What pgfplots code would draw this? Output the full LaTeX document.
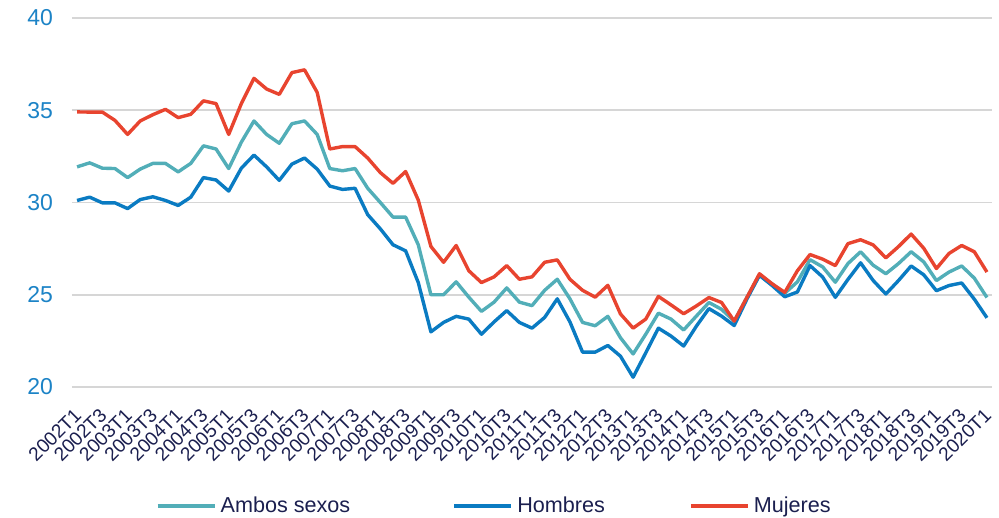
\documentclass[border=0pt]{standalone}
\usepackage{pgfplots}
\pgfplotsset{compat=1.18}
\usepackage{pgfplotstable}
\usepackage{fontspec}
\setmainfont{Liberation Sans}
\definecolor{cTeal}{HTML}{52AEB8}
\definecolor{cBlue}{HTML}{0A7BC2}
\definecolor{cRed}{HTML}{E8442F}
\definecolor{cNavy}{HTML}{1B1F4F}
\definecolor{cYlab}{HTML}{1C83C6}
\definecolor{cGrid}{HTML}{D6D6D6}
\pgfplotstableread{
i a h m
0 31.93 30.11 34.91
1 32.15 30.29 34.90
2 31.86 29.98 34.90
3 31.84 29.98 34.45
4 31.35 29.67 33.69
5 31.81 30.16 34.42
6 32.12 30.31 34.76
7 32.12 30.11 35.05
8 31.66 29.84 34.60
9 32.12 30.29 34.78
10 33.07 31.35 35.51
11 32.90 31.22 35.36
12 31.84 30.62 33.69
13 33.27 31.86 35.36
14 34.42 32.57 36.73
15 33.69 31.93 36.15
16 33.21 31.20 35.86
17 34.27 32.08 37.04
18 34.42 32.41 37.19
19 33.69 31.81 35.97
20 31.84 30.89 32.90
21 31.72 30.71 33.03
22 31.84 30.77 33.03
23 30.77 29.34 32.41
24 30.00 28.57 31.62
25 29.21 27.71 31.04
26 29.21 27.38 31.68
27 27.71 25.66 30.13
28 25.00 22.99 27.62
29 25.00 23.50 26.76
30 25.70 23.83 27.67
31 24.87 23.68 26.30
32 24.10 22.86 25.66
33 24.60 23.53 25.97
34 25.37 24.14 26.58
35 24.60 23.50 25.84
36 24.41 23.19 25.97
37 25.24 23.77 26.76
38 25.84 24.78 26.89
39 24.78 23.53 25.84
40 23.50 21.89 25.24
41 23.32 21.89 24.87
42 23.83 22.25 25.51
43 22.67 21.67 23.96
44 21.79 20.53 23.19
45 22.86 21.85 23.68
46 24.00 23.19 24.91
47 23.68 22.76 24.45
48 23.09 22.22 23.97
49 23.84 23.29 24.39
50 24.58 24.25 24.85
51 24.21 23.84 24.58
52 23.57 23.33 23.57
53 24.85 24.76 24.85
54 26.08 26.05 26.14
55 25.59 25.50 25.59
56 25.08 24.89 25.13
57 25.70 25.15 26.30
58 26.90 26.58 27.18
59 26.51 25.96 26.93
60 25.68 24.86 26.58
61 26.69 25.83 27.77
62 27.33 26.73 27.98
63 26.60 25.77 27.70
64 26.14 25.04 27.00
65 26.69 25.77 27.61
66 27.33 26.56 28.29
67 26.78 26.08 27.52
68 25.77 25.22 26.42
69 26.23 25.50 27.24
70 26.56 25.64 27.67
71 25.90 24.76 27.33
72 24.85 23.75 26.23
}\datatable
\begin{document}
\begin{tikzpicture}
\useasboundingbox (-36pt,-65.5pt) rectangle (463.5pt,193.5pt);
\begin{axis}[
  at={(0pt,0pt)}, anchor=south west,
  scale only axis, width=460pt, height=184.5pt,
  xmin=-0.4, xmax=72.4, ymin=20, ymax=40,
  axis line style={draw=none},
  major tick length=0pt,
  ymajorgrids, grid style={color=cGrid, line width=0.8pt},
  ytick={20,25,30,35,40},
  xtick={0,2,...,72},
  xticklabels={2002T1,2002T3,2003T1,2003T3,2004T1,2004T3,2005T1,2005T3,2006T1,2006T3,2007T1,2007T3,2008T1,2008T3,2009T1,2009T3,2010T1,2010T3,2011T1,2011T3,2012T1,2012T3,2013T1,2013T3,2014T1,2014T3,2015T1,2015T3,2016T1,2016T3,2017T1,2017T3,2018T1,2018T3,2019T1,2019T3,2020T1},
  x tick label style={xshift=-2pt, yshift=-5pt, rotate=45, anchor=north east, font=\fontsize{9.6}{10.5}\selectfont, text=cNavy},
  y tick label style={font=\fontsize{11.5}{12}\selectfont, text=cYlab, xshift=-6pt},
  /pgf/number format/assume math mode=true,
  legend columns=3,
  legend style={at={(0.46,-0.3225)}, anchor=center, draw=none, fill=none,
    font=\fontsize{10.8}{12}\selectfont, text=cNavy,
    /tikz/column 2/.style={column sep=49pt},
    /tikz/column 4/.style={column sep=40pt}},
  legend image code/.code={\draw[#1, line width=2pt] (0pt,0pt) -- (28.5pt,0pt);},
  every axis plot/.append style={line width=1.7pt, line join=round},
]
\addplot[cTeal] table[x=i, y=a] {\datatable};
\addlegendentry{Ambos sexos}
\addplot[cBlue] table[x=i, y=h] {\datatable};
\addlegendentry{Hombres}
\addplot[cRed] table[x=i, y=m] {\datatable};
\addlegendentry{Mujeres}
\end{axis}
\end{tikzpicture}
\end{document}
